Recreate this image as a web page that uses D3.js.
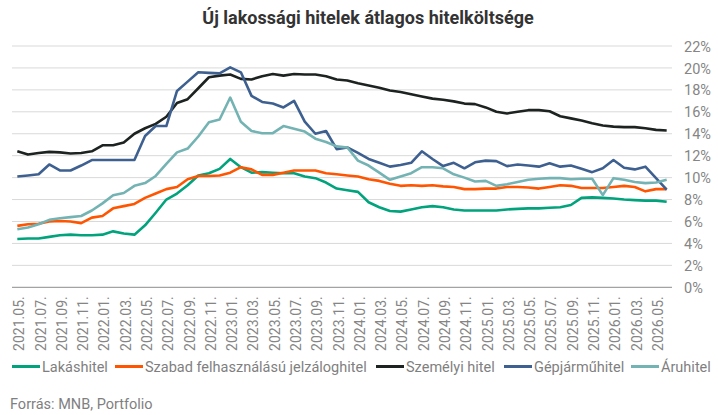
<!DOCTYPE html>
<html>
<head>
<meta charset="utf-8">
<script src="https://cdn.jsdelivr.net/npm/d3@7"></script>
<style>
  html, body { margin: 0; padding: 0; background: #fff; }
  svg { display: block; font-family: Roboto, "Noto Sans", sans-serif; }
</style>
</head>
<body>
<svg id="chart" width="718" height="415"></svg>
<script>
const categories = [
  "2021.05.","2021.06.","2021.07.","2021.08.","2021.09.","2021.10.","2021.11.","2021.12.",
  "2022.01.","2022.02.","2022.03.","2022.04.","2022.05.","2022.06.","2022.07.","2022.08.",
  "2022.09.","2022.10.","2022.11.","2022.12.","2023.01.","2023.02.","2023.03.","2023.04.",
  "2023.05.","2023.06.","2023.07.","2023.08.","2023.09.","2023.10.","2023.11.","2023.12.",
  "2024.01.","2024.02.","2024.03.","2024.04.","2024.05.","2024.06.","2024.07.","2024.08.",
  "2024.09.","2024.10.","2024.11.","2024.12.","2025.01.","2025.02.","2025.03.","2025.04.",
  "2025.05.","2025.06.","2025.07.","2025.08.","2025.09.","2025.10.","2025.11.","2025.12.",
  "2026.01.","2026.02.","2026.03.","2026.04.","2026.05.","2026.06."
];

const lakashitel = [
  4.4,4.45,4.45,4.6,4.75,4.8,4.75,4.75,4.8,5.1,4.9,4.8,5.65,6.8,8.0,8.55,
  9.3,10.2,10.4,10.8,11.7,10.95,10.45,10.5,10.45,10.4,10.4,10.1,9.95,9.55,9.0,8.85,
  8.7,7.75,7.3,6.95,6.9,7.1,7.3,7.4,7.3,7.1,7.0,7.0,7.0,7.0,7.1,7.15,
  7.2,7.2,7.25,7.3,7.5,8.15,8.2,8.15,8.1,8.0,7.95,7.9,7.9,7.8
];
const szabad = [
  5.6,5.75,5.8,6.0,6.05,6.0,5.85,6.35,6.5,7.2,7.4,7.6,8.15,8.55,8.95,9.15,
  9.85,10.15,10.15,10.2,10.45,10.95,10.75,10.25,10.25,10.45,10.65,10.65,10.65,10.4,10.3,10.2,
  10.1,9.85,9.7,9.45,9.25,9.3,9.25,9.3,9.2,9.15,8.95,8.95,9.0,9.0,9.15,9.15,
  9.1,9.0,9.15,9.3,9.25,9.05,9.05,9.05,9.15,9.25,9.15,8.75,8.95,8.95
];
const szemelyi = [
  12.4,12.1,12.25,12.35,12.3,12.2,12.25,12.4,12.95,12.95,13.2,14.0,14.5,14.9,15.55,16.8,
  17.15,18.15,19.15,19.3,19.4,19.0,18.95,19.25,19.45,19.3,19.45,19.4,19.4,19.25,18.95,18.85,
  18.6,18.4,18.2,17.95,17.8,17.6,17.4,17.2,17.1,16.95,16.75,16.7,16.4,16.0,15.85,16.0,
  16.15,16.15,16.05,15.6,15.4,15.2,14.95,14.75,14.65,14.6,14.6,14.5,14.35,14.3
];
const gepjarmu = [
  10.1,10.2,10.3,11.2,10.65,10.65,11.1,11.6,11.6,11.6,11.6,11.6,13.8,14.7,14.7,17.9,
  18.75,19.6,19.55,19.5,20.05,19.6,17.45,16.9,16.75,16.4,17.0,15.1,14.0,14.25,12.6,12.75,
  12.25,11.7,11.35,11.0,11.15,11.35,12.4,11.7,11.05,11.35,10.85,11.4,11.55,11.5,11.05,11.2,
  11.1,11.0,11.3,11.0,11.1,10.8,10.5,10.85,11.6,10.9,10.75,11.0,9.95,8.9
];
const aruhitel = [
  5.3,5.45,5.75,6.15,6.3,6.4,6.5,7.0,7.65,8.4,8.6,9.25,9.5,10.15,11.25,12.3,
  12.65,13.75,15.05,15.3,17.3,15.1,14.25,14.05,14.05,14.7,14.45,14.2,13.55,13.25,12.85,12.75,
  11.55,11.1,10.45,9.8,10.1,10.4,10.95,10.95,10.85,10.3,10.0,9.65,9.7,9.25,9.4,9.6,
  9.8,9.9,9.95,9.95,9.85,9.9,9.9,8.4,9.95,9.8,9.6,9.5,9.55,9.8
];

const seriesNames = ["Lakáshitel","Szabad felhasználású jelzáloghitel","Személyi hitel","Gépjárműhitel","Áruhitel"];
const seriesValues = [lakashitel, szabad, szemelyi, gepjarmu, aruhitel];
const seriesColors = ["#00a37c","#ff5500","#1c2320","#3d6090","#74b3b3"];
const yTicks = [0,2,4,6,8,10,12,14,16,18,20,22];
const titleText = "Új lakossági hitelek átlagos hitelköltsége";
const sourceText = "Forrás: MNB, Portfolio";

const svg = d3.select("#chart");
const plotLeft = 12, plotRight = 672, plotTop = 46, plotBottom = 287.3;

const x = d3.scalePoint().domain(categories).range([plotLeft, plotRight]).padding(0.5);
const y = d3.scaleLinear().domain([0, 22]).range([plotBottom, plotTop]);

// title
svg.append("text")
  .attr("x", 368).attr("y", 24)
  .attr("text-anchor", "middle")
  .attr("font-size", 18).attr("font-weight", "bold")
  .attr("fill", "#333333")
  .text(titleText);

// gridlines
svg.append("g").selectAll("line")
  .data(yTicks.filter(d => d > 0))
  .join("line")
  .attr("x1", plotLeft).attr("x2", plotRight)
  .attr("y1", d => y(d)).attr("y2", d => y(d))
  .attr("stroke", "#d9d9d9").attr("stroke-width", 1);

// x axis baseline
svg.append("line")
  .attr("x1", plotLeft).attr("x2", plotRight)
  .attr("y1", y(0)).attr("y2", y(0))
  .attr("stroke", "#8c8c8c").attr("stroke-width", 1);

// y axis on right
const yAxis = d3.axisRight(y).tickValues(yTicks).tickFormat(d => d + "%").tickSize(0).tickPadding(0);
const yg = svg.append("g").attr("transform", `translate(684,0)`).call(yAxis);
yg.select(".domain").remove();
yg.selectAll("text").attr("font-size", 14.5).attr("fill", "#858585")
  .attr("font-family", "Roboto, sans-serif").attr("dy", "0.35em").attr("x", 0);

// x labels
const xLabels = categories.filter((d, i) => i % 2 === 0);
const xAxis = d3.axisBottom(x).tickValues(xLabels).tickSize(0).tickPadding(0);
const xg = svg.append("g").attr("transform", `translate(0,${plotBottom})`).call(xAxis);
xg.select(".domain").remove();
xg.selectAll("text")
  .attr("font-size", 14).attr("fill", "#858585").attr("font-family", "Roboto, sans-serif")
  .attr("text-anchor", "end")
  .attr("transform", "translate(1.5,9) rotate(-90)")
  .attr("x", 0).attr("y", 0).attr("dy", "0.35em");

// lines
const line = d3.line().x((d, i) => x(categories[i])).y(d => y(d));
svg.append("g").selectAll("path")
  .data(seriesValues)
  .join("path")
  .attr("d", d => line(d))
  .attr("fill", "none")
  .attr("stroke", (d, i) => seriesColors[i])
  .attr("stroke-width", 2.6)
  .attr("stroke-linejoin", "round");

// legend
const legendX = [12, 115, 376, 504, 631];
const legendY = 366.5;
const lg = svg.append("g").selectAll("g").data(seriesNames).join("g")
  .attr("transform", (d, i) => `translate(${legendX[i]},${legendY})`);
lg.append("line").attr("x1", 0).attr("x2", 28).attr("y1", 0).attr("y2", 0)
  .attr("stroke", (d, i) => seriesColors[i]).attr("stroke-width", 3);
lg.append("text").attr("x", 30).attr("y", 0).attr("dy", "0.35em")
  .attr("font-size", 14.5).attr("fill", "#7f7f7f").text(d => d);

// source
svg.append("text").attr("x", 10).attr("y", 409)
  .attr("font-size", 14.5).attr("fill", "#7f7f7f").text(sourceText);
</script>
</body>
</html>
